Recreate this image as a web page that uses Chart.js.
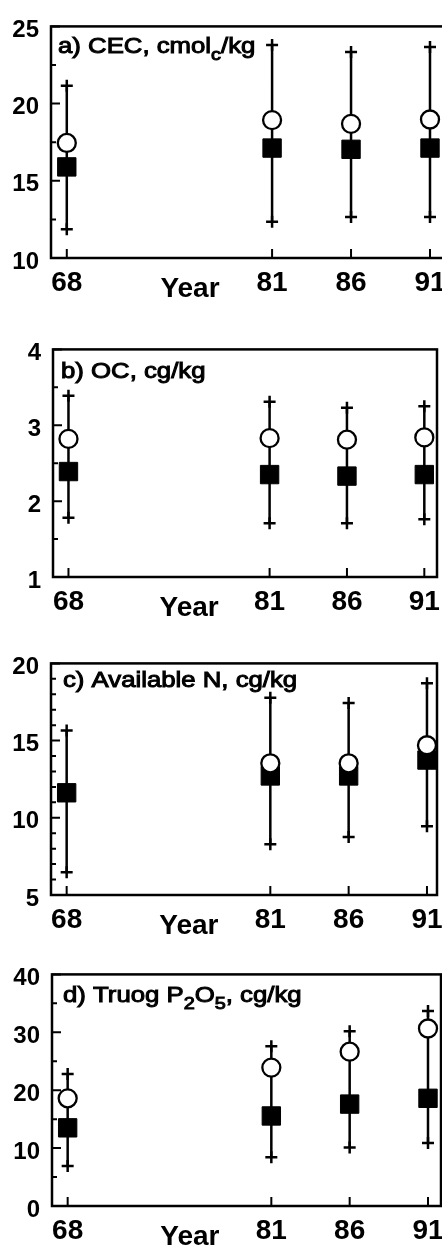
<!DOCTYPE html>
<html>
<head>
<meta charset="utf-8">
<script src="https://cdn.jsdelivr.net/npm/chart.js@4.4.1/dist/chart.umd.min.js"></script>
<style>
  html, body { margin: 0; padding: 0; background: #fff; width: 442px; height: 1246px; overflow: hidden; position: relative; }
  canvas { position: absolute; left: 0; }
</style>
</head>
<body>
<canvas id="pa"></canvas>
<canvas id="pb"></canvas>
<canvas id="pc"></canvas>
<canvas id="pd"></canvas>
<script>
// sampling years (19xx)
const years = [68, 81, 86, 91];
const yearLabelAt = 75.8;

// a) CEC
const cecOpen   = [17.45, 18.93, 18.69, 18.97];
const cecFilled = [15.9, 17.12, 17.04, 17.12];
const cecHigh   = [21.15, 23.8, 23.35, 23.66];
const cecLow    = [11.87, 12.35, 12.65, 12.65];
const cecMinor  = [12.5, 17.5, 22.5];

// b) OC
const ocOpen   = [2.82, 2.83, 2.81, 2.84];
const ocFilled = [2.39, 2.35, 2.33, 2.35];
const ocHigh   = [3.39, 3.31, 3.23, 3.25];
const ocLow    = [1.78, 1.71, 1.71, 1.76];
const ocMinor  = [1.5, 2.5, 3.5];

// c) available N (no open value in 68)
const nOpen   = [null, 13.53, 13.53, 14.7];
const nFilled = [11.62, 12.71, 12.71, 13.74];
const nHigh   = [15.65, 17.78, 17.43, 18.71];
const nLow    = [6.48, 8.29, 8.76, 9.46];
const nMinor  = [6, 7, 8, 9, 11, 12, 13, 14, 16, 17, 18, 19];

// d) Truog P2O5
const pOpen   = [18.6, 23.9, 26.65, 30.66];
const pFilled = [13.5, 15.55, 17.6, 18.6];
const pHigh   = [22.8, 27.6, 30.2, 33.7];
const pLow    = [6.9, 8.4, 10.1, 10.9];
const pMinor  = [5, 15, 25, 35];

const FONT = '"Liberation Sans", Arial, Helvetica, sans-serif';

// draws box, inward ticks, panel title and "Year"
const decor = {
  id: 'decor',
  afterDraw(chart, args, o) {
    const ctx = chart.ctx, a = chart.chartArea;
    const xs = chart.scales.x, ys = chart.scales.y;
    ctx.save();
    ctx.strokeStyle = '#000';
    ctx.lineWidth = 2.5;
    ctx.strokeRect(a.left, a.top, a.right - a.left, a.bottom - a.top);

    ctx.lineWidth = 2;
    ctx.beginPath();
    ys.ticks.forEach(t => {
      const y = ys.getPixelForValue(t.value);
      ctx.moveTo(a.left, y); ctx.lineTo(a.left + 9, y);
    });
    o.minor.forEach(v => {
      const y = ys.getPixelForValue(v);
      ctx.moveTo(a.left, y); ctx.lineTo(a.left + 5, y);
    });
    years.forEach(v => {
      const x = xs.getPixelForValue(v);
      ctx.moveTo(x, a.bottom); ctx.lineTo(x, a.bottom - 9);
    });
    ctx.stroke();

    // Year
    ctx.fillStyle = '#000';
    ctx.font = 'bold 28px ' + FONT;
    ctx.textAlign = 'center';
    ctx.textBaseline = 'alphabetic';
    ctx.fillText('Year', xs.getPixelForValue(yearLabelAt), a.bottom + 39);

    // panel title with subscripts
    ctx.translate(a.left + o.dx, a.top + o.dy);
    ctx.scale(1.17, 1);
    ctx.textAlign = 'left';
    ctx.lineWidth = 1;
    let x = 0;
    o.title.forEach(([txt, sub]) => {
      ctx.font = (sub ? '17px ' : '22px ') + FONT;
      const y = sub ? 7 : 0;
      ctx.fillText(txt, x, y);
      ctx.strokeText(txt, x, y);
      x += ctx.measureText(txt).width;
    });
    ctx.restore();
  }
};

function panel(id, box, xMax, yMin, yMax, step, minor, open, filled, high, low, title, dx, dy) {
  const cw = 460, axisH = 50;
  const cv = document.getElementById(id);
  const h = (box.B - box.T) + 15 + axisH;
  cv.width = cw; cv.height = h;
  cv.style.width = cw + 'px'; cv.style.height = h + 'px';
  cv.style.top = (box.T - 15) + 'px';

  const pts = arr => years.map((x, i) => ({ x, y: arr[i] }));
  const bars = [];
  years.forEach((x, i) => { bars.push({ x, y: low[i] }, { x, y: high[i] }, { x, y: null }); });

  new Chart(cv, {
    type: 'scatter',
    data: {
      datasets: [
        { data: pts(open), pointStyle: 'circle', pointRadius: 9, pointBackgroundColor: '#fff',
          pointBorderColor: '#000', pointBorderWidth: 2.3, clip: false },
        { data: pts(filled), pointStyle: 'rect', pointRadius: 13, pointBackgroundColor: '#000',
          pointBorderColor: '#000', pointBorderWidth: 1, clip: false },
        { data: bars, showLine: true, borderColor: '#000', borderWidth: 2.5, spanGaps: false,
          pointStyle: 'cross', pointRadius: 6, pointBorderColor: '#000', pointBorderWidth: 2.5, clip: false }
      ]
    },
    options: {
      responsive: false,
      animation: false,
      events: [],
      layout: { padding: { top: 15, left: 0, right: cw - box.R, bottom: 0 } },
      plugins: {
        legend: { display: false },
        tooltip: { enabled: false },
        decor: { minor, title, dx, dy }
      },
      scales: {
        x: {
          type: 'linear', min: 67, max: xMax,
          afterBuildTicks: s => { s.ticks = years.map(v => ({ value: v })); },
          afterFit: s => { s.height = axisH; },
          grid: { display: false, drawTicks: false },
          border: { display: false },
          ticks: { autoSkip: false, maxRotation: 0, padding: 8, color: '#000',
                   font: { family: FONT, size: 28, weight: 'bold' }, callback: v => String(v) }
        },
        y: {
          min: yMin, max: yMax,
          afterFit: s => { s.width = box.L; },
          grid: { display: false, drawTicks: false },
          border: { display: false },
          ticks: { stepSize: step, padding: 12, labelOffset: 4, color: '#000',
                   font: { family: FONT, size: 24, weight: 'bold' } }
        }
      }
    },
    plugins: [decor]
  });
}

panel('pa', { L: 51, T: 15, B: 258, R: 445 }, 91.95, 10, 25, 5, cecMinor,
      cecOpen, cecFilled, cecHigh, cecLow, [['a) CEC, cmol', 0], ['c', 1], ['/kg', 0]], 7, 27);
panel('pb', { L: 53, T: 338, B: 577, R: 437 }, 91.82, 1, 4, 1, ocMinor,
      ocOpen, ocFilled, ocHigh, ocLow, [['b) OC, cg/kg', 0]], 8, 29);
panel('pc', { L: 51, T: 652, B: 895, R: 437 }, 91.64, 5, 20, 5, nMinor,
      nOpen, nFilled, nHigh, nLow, [['c) Available N, cg/kg', 0]], 12, 24);
panel('pd', { L: 52, T: 963, B: 1206, R: 441 }, 91.83, 0, 40, 10, pMinor,
      pOpen, pFilled, pHigh, pLow, [['d) Truog P', 0], ['2', 1], ['O', 0], ['5', 1], [', cg/kg', 0]], 11, 28);
</script>
</body>
</html>
